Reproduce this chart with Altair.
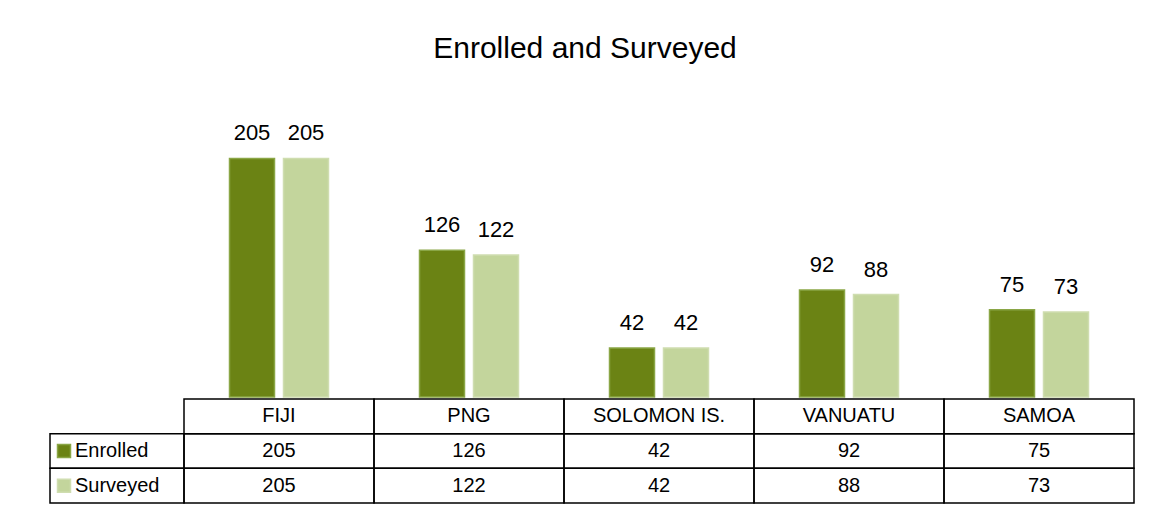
import altair as alt
import pandas as pd

countries = ["FIJI", "PNG", "SOLOMON IS.", "VANUATU", "SAMOA"]
enrolled = [205, 126, 42, 92, 75]
surveyed = [205, 122, 42, 88, 73]
series = ["Enrolled", "Surveyed"]
fills = ["#6B8314", "#C3D59C"]
strokes = ["#8AA646", "#CFDDB0"]
FONT = "Liberation Sans"

# layout constants (in column units: one country column = 1)
LEG = 134 / 190        # width of the legend column on the left of the table
BW = 45 / 190          # bar width
GAP = 9 / 190          # gap between the two bars of a group
N = len(countries)

# ---- bar table ----
rows = []
for i, c in enumerate(countries):
    for k, (s, vals) in enumerate(zip(series, [enrolled, surveyed])):
        if k == 0:
            x0 = i + 0.5 - GAP / 2 - BW
        else:
            x0 = i + 0.5 + GAP / 2
        rows.append({"country": c, "series": s, "value": vals[i],
                     "x0": x0, "x1": x0 + BW, "xc": x0 + BW / 2})
bars_df = pd.DataFrame(rows)

xscale = alt.Scale(domain=[-LEG, N], nice=False, zero=False)
yscale = alt.Scale(domain=[0, 250], nice=False)
color_scale = alt.Scale(domain=series, range=fills)
stroke_scale = alt.Scale(domain=series, range=strokes)
noframe = alt.ViewBackground(strokeOpacity=0, strokeWidth=0)

bars = alt.Chart(bars_df).mark_rect(strokeWidth=1.5).encode(
    x=alt.X("x0:Q", scale=xscale, axis=None),
    x2="x1:Q",
    y=alt.Y("value:Q", scale=yscale, axis=None),
    y2=alt.datum(0),
    color=alt.Color("series:N", scale=color_scale, legend=None),
    stroke=alt.Stroke("series:N", scale=stroke_scale, legend=None),
)
labels = alt.Chart(bars_df).mark_text(
    baseline="alphabetic", dy=-18, fontSize=22, font=FONT, color="black"
).encode(
    x=alt.X("xc:Q", scale=xscale, axis=None),
    y=alt.Y("value:Q", scale=yscale, axis=None),
    text="value:Q",
)
top = alt.layer(bars, labels).properties(width=1084, height=291, view=noframe)

# ---- data table ----
cells = []
texts = []
for i, c in enumerate(countries):
    cells.append({"x": i, "x2": i + 1, "y": 2, "y2": 3})
    texts.append({"x": i + 0.5, "y": 2.5, "t": c})
    for r, vals in zip([1, 0], [enrolled, surveyed]):
        cells.append({"x": i, "x2": i + 1, "y": r, "y2": r + 1})
        texts.append({"x": i + 0.5, "y": r + 0.5, "t": str(vals[i])})
legend_rows = []
for r, s in zip([1, 0], series):
    cells.append({"x": -LEG, "x2": 0, "y": r, "y2": r + 1})
    legend_rows.append({"sx": -LEG + 14 / 190, "tx": -LEG + 25 / 190,
                        "y": r + 0.5, "series": s})
cells_df = pd.DataFrame(cells)
texts_df = pd.DataFrame(texts)
leg_df = pd.DataFrame(legend_rows)

yscale_t = alt.Scale(domain=[0, 3], nice=False, zero=False)

grid = alt.Chart(cells_df).mark_rect(
    fill="white", fillOpacity=0, stroke="black", strokeWidth=1.5
).encode(
    x=alt.X("x:Q", scale=xscale, axis=None), x2="x2:Q",
    y=alt.Y("y:Q", scale=yscale_t, axis=None), y2="y2:Q",
)
cell_text = alt.Chart(texts_df).mark_text(
    fontSize=20, font=FONT, color="black", baseline="middle"
).encode(
    x=alt.X("x:Q", scale=xscale, axis=None),
    y=alt.Y("y:Q", scale=yscale_t, axis=None),
    text="t:N",
)
leg_sq = alt.Chart(leg_df).mark_square(
    size=169, opacity=1, filled=True, strokeWidth=1.5
).encode(
    x=alt.X("sx:Q", scale=xscale, axis=None),
    y=alt.Y("y:Q", scale=yscale_t, axis=None),
    color=alt.Color("series:N", scale=color_scale, legend=None),
    stroke=alt.Stroke("series:N", scale=stroke_scale, legend=None),
)
leg_text = alt.Chart(leg_df).mark_text(
    fontSize=20, font=FONT, color="black", baseline="middle", align="left"
).encode(
    x=alt.X("tx:Q", scale=xscale, axis=None),
    y=alt.Y("y:Q", scale=yscale_t, axis=None),
    text="series:N",
)
table = alt.layer(grid, cell_text, leg_sq, leg_text).properties(
    width=1084, height=104, view=noframe)

chart = alt.vconcat(top, table, spacing=0).properties(
    title=alt.TitleParams("Enrolled and Surveyed", fontSize=30, font=FONT,
                          fontWeight="normal", anchor="middle", color="black",
                          offset=42, dx=-7),
    padding={"left": 41, "top": 26, "right": 10, "bottom": 0},
).configure_view(strokeOpacity=0, strokeWidth=0).configure(background="white")

chart.save("out.html", embed_options={"renderer": "svg", "actions": False})
